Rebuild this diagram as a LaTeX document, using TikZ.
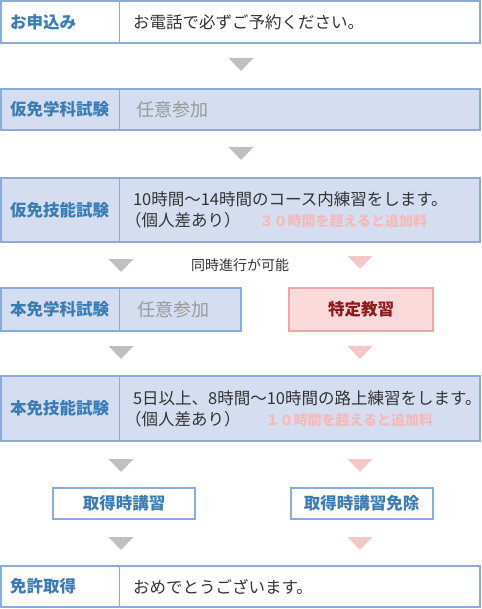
\documentclass[tikz,border=0pt]{standalone}
\usepackage{fontspec}
\setmainfont{Noto Sans CJK JP}
\usetikzlibrary{positioning}
\definecolor{flowBorder}{RGB}{138, 172, 218}
\definecolor{flowFill}{RGB}{213, 222, 240}
\definecolor{headBlue}{RGB}{58, 125, 182}
\definecolor{bodyDark}{RGB}{51, 51, 51}
\definecolor{optGray}{RGB}{153, 153, 153}
\definecolor{feePink}{RGB}{246, 185, 185}
\definecolor{triGray}{RGB}{191, 191, 191}
\definecolor{triPink}{RGB}{245, 200, 200}
\definecolor{specialFill}{RGB}{250, 218, 218}
\definecolor{specialBorder}{RGB}{240, 165, 165}
\definecolor{specialText}{RGB}{140, 28, 28}

\begin{document}
\begin{tikzpicture}[
  x=1pt, y=-1pt,
  stagehead/.style={
    draw=flowBorder,
    line width=1pt,
    outer sep=0pt,
    anchor=north west,
    text width=100pt,
    inner xsep=9pt,
    inner ysep=0pt,
    minimum width=118pt,
    align=left,
    text=headBlue,
    font=\fontsize{16.5}{20}\selectfont\bfseries
  },
  stagebody/.style={
    draw=flowBorder,
    line width=1pt,
    outer sep=0pt,
    inner xsep=14pt,
    inner ysep=0pt,
    align=left,
    text=bodyDark,
    font=\fontsize{16.5}{21}\selectfont
  },
  frame/.style={draw=flowBorder,line width=2pt},
  course/.style={
    draw=flowBorder,
    line width=2pt,
    minimum width=142pt,
    minimum height=31pt,
    text=headBlue,
    font=\fontsize{16.5}{20}\selectfont\bfseries
  },
  special/.style={
    draw=specialBorder,
    fill=specialFill,
    line width=1.5pt,
    minimum width=144pt,
    minimum height=43pt,
    text=specialText,
    font=\fontsize{16.5}{20}\selectfont\bfseries
  },
  pics/downtri/.style={code={\fill (-12.5,-6.5) -- (12.5,-6.5) -- (0,6.5) -- cycle;}}
]
  \useasboundingbox (0,0) rectangle (481,609);

  % application
  \node[stagehead,minimum height=42pt] (apply) at (1,1) {お申込み};
  \node[stagebody,text width=333pt,minimum height=42pt,right=0pt of apply] (applyNote)
    {お電話で必ずご予約ください。};
  \draw[frame] (apply.north west) rectangle (applyNote.south east);
  \pic[fill=triGray] at (241,64.5) {downtri};

  % provisional written test
  \node[stagehead,fill=flowFill,minimum height=41pt] (provWritten) at (1,89) {仮免学科試験};
  \node[stagebody,fill=flowFill,text width=333pt,minimum height=41pt,right=0pt of provWritten] (provWrittenNote)
    {\hspace{3pt}\textcolor{optGray}{\fontsize{18}{20}\selectfont 任意参加}};
  \draw[frame] (provWritten.north west) rectangle (provWrittenNote.south east);
  \pic[fill=triGray] at (241,153.5) {downtri};

  % provisional driving test
  \node[stagehead,fill=flowFill,minimum height=64pt] (provDriving) at (1,178) {仮免技能試験};
  \node[stagebody,fill=flowFill,text width=333pt,minimum height=64pt,right=0pt of provDriving] (provDrivingNote)
    {10時間～14時間のコース内練習をします。\\\hspace*{-8pt}（個人差あり）\hspace{19pt}{\color{feePink}\fontsize{14}{20}\selectfont\bfseries ３０時間を超えると追加料}};
  \draw[frame] (provDriving.north west) rectangle (provDrivingNote.south east);
  \pic[fill=triGray] at (121,265.5) {downtri};
  \pic[fill=triPink] at (360,262.5) {downtri};
  \node[text=bodyDark,font=\fontsize{14}{16}\selectfont] (parallel) at (240,265) {同時進行が可能};

  % full written test and special course
  \node[stagehead,fill=flowFill,minimum height=43pt] (fullWritten) at (1,288) {本免学科試験};
  \node[stagebody,fill=flowFill,text width=94pt,minimum height=43pt,right=0pt of fullWritten] (fullWrittenNote)
    {\hspace{4pt}\textcolor{optGray}{\fontsize{18}{20}\selectfont 任意参加}};
  \draw[frame] (fullWritten.north west) rectangle (fullWrittenNote.south east);
  \node[special] (specialCourse) at (361,309.5) {特定教習};
  \pic[fill=triGray] at (121,352.5) {downtri};
  \pic[fill=triPink] at (360,352.5) {downtri};

  % full driving test
  \node[stagehead,fill=flowFill,minimum height=65pt] (fullDriving) at (1,376) {本免技能試験};
  \node[stagebody,fill=flowFill,text width=333pt,minimum height=65pt,right=0pt of fullDriving] (fullDrivingNote)
    {5日以上、8時間～10時間の路上練習をします。\\\hspace*{-8pt}（個人差あり）\hspace{25pt}{\color{feePink}\fontsize{14}{20}\selectfont\bfseries １０時間を超えると追加料}};
  \draw[frame] (fullDriving.north west) rectangle (fullDrivingNote.south east);
  \pic[fill=triGray] at (121,465.5) {downtri};
  \pic[fill=triPink] at (360,465.5) {downtri};

  % lecture on acquisition
  \node[course] (lecture) at (124,503.5) {取得時講習};
  \node[course] (lectureExempt) at (361.5,503.5) {取得時講習免除};
  \pic[fill=triGray] at (121,543.5) {downtri};
  \pic[fill=triPink] at (360,543.5) {downtri};

  % licence
  \node[stagehead,minimum height=41pt] (licence) at (1,566) {免許取得};
  \node[stagebody,text width=333pt,minimum height=41pt,right=0pt of licence] (licenceNote)
    {おめでとうございます。};
  \draw[frame] (licence.north west) rectangle (licenceNote.south east);
\end{tikzpicture}
\end{document}
